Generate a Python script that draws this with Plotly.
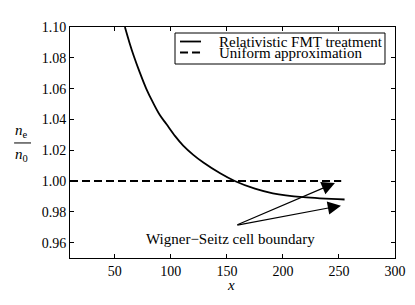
import plotly.graph_objects as go

# Data
x_fmt = [59, 63, 67, 72, 78, 84, 90, 96, 104, 111, 120, 129, 144, 157, 175, 191, 218, 255]
y_fmt = [1.100, 1.090, 1.081, 1.071, 1.060, 1.051, 1.043, 1.037, 1.029, 1.023, 1.017, 1.012,
         1.005, 1.000, 0.995, 0.992, 0.9895, 0.988]
x_uniform = [10, 252]
y_uniform = [1.0, 1.0]

arrow_tail = (158, 0.9712)
arrow_tips = [(246.4, 0.9987), (251.8, 0.984)]
annot_label = "Wigner\u2212Seitz cell boundary"
annot_pos = (153.6, 0.9626)

legend_labels = ["Relativistic FMT treatment", "Uniform approximation"]

x_ticks = [50, 100, 150, 200, 250, 300]
y_ticks = [0.96, 0.98, 1.00, 1.02, 1.04, 1.06, 1.08, 1.10]

FONT = "Liberation Serif, Times New Roman, serif"
DASH = "8px,4px"

fig = go.Figure()
fig.add_trace(go.Scatter(x=x_fmt, y=y_fmt, mode="lines", name=legend_labels[0],
                         line=dict(color="black", width=1.8, shape="spline"), showlegend=False))
fig.add_trace(go.Scatter(x=x_uniform, y=y_uniform, mode="lines", name=legend_labels[1],
                         line=dict(color="black", width=1.8, dash=DASH), showlegend=False))

for tx, ty in arrow_tips:
    fig.add_annotation(x=tx, y=ty, ax=arrow_tail[0], ay=arrow_tail[1], xref="x", yref="y",
                       axref="x", ayref="y", text="", showarrow=True, arrowhead=2,
                       arrowsize=2.2, arrowwidth=1.2, arrowcolor="black")

fig.add_annotation(x=annot_pos[0], y=annot_pos[1], xref="x", yref="y", text=annot_label,
                   showarrow=False, font=dict(family=FONT, size=15, color="black"),
                   xanchor="center", yanchor="middle")

# Legend drawn manually (box, handles, labels)
fig.add_shape(type="rect", xref="paper", yref="paper", x0=0.3231, x1=0.9692, y0=0.8398, y1=0.974,
              line=dict(color="black", width=1), fillcolor="white", layer="above")
fig.add_shape(type="line", xref="paper", yref="paper", x0=0.3385, x1=0.4031, y0=0.9372, y1=0.9372,
              line=dict(color="black", width=1.8), layer="above")
fig.add_shape(type="line", xref="paper", yref="paper", x0=0.3385, x1=0.4031, y0=0.8896, y1=0.8896,
              line=dict(color="black", width=1.8, dash=DASH), layer="above")
for lbl, ly in zip(legend_labels, [0.9372, 0.8896]):
    fig.add_annotation(x=0.4514, y=ly, xref="paper", yref="paper", text=lbl, showarrow=False,
                       font=dict(family=FONT, size=15, color="black"),
                       xanchor="left", yanchor="middle")

# y-axis label as fraction n_e / n_0
fig.add_annotation(x=-0.148, y=0.503, xref="paper", yref="paper", text="<i>n</i><sub>e</sub>",
                   showarrow=False, font=dict(family=FONT, size=15, color="black"),
                   xanchor="center", yanchor="bottom")
fig.add_annotation(x=-0.148, y=0.493, xref="paper", yref="paper", text="<i>n</i><sub>0</sub>",
                   showarrow=False, font=dict(family=FONT, size=15, color="black"),
                   xanchor="center", yanchor="top")
fig.add_shape(type="line", xref="paper", yref="paper", x0=-0.172, x1=-0.12, y0=0.498, y1=0.498,
              line=dict(color="black", width=1))

fig.add_annotation(x=0.495, y=-0.115, xref="paper", yref="paper", text="<i>x</i>",
                   showarrow=False, font=dict(family=FONT, size=15, color="black"),
                   xanchor="center", yanchor="middle")

axis_common = dict(showline=True, linecolor="black", linewidth=1, mirror="ticks",
                   ticks="inside", ticklen=4, tickcolor="black", showgrid=False, zeroline=False,
                   tickfont=dict(family=FONT, size=14, color="black"))

fig.update_xaxes(range=[10, 300], tickvals=x_ticks, **axis_common)
fig.update_yaxes(range=[0.95, 1.10], tickvals=y_ticks, tickformat=".2f", **axis_common)

fig.update_layout(
    width=415, height=305,
    margin=dict(l=62, r=28, t=19, b=55),
    paper_bgcolor="white", plot_bgcolor="white",
    showlegend=False,
)

fig.write_html("out.html")
